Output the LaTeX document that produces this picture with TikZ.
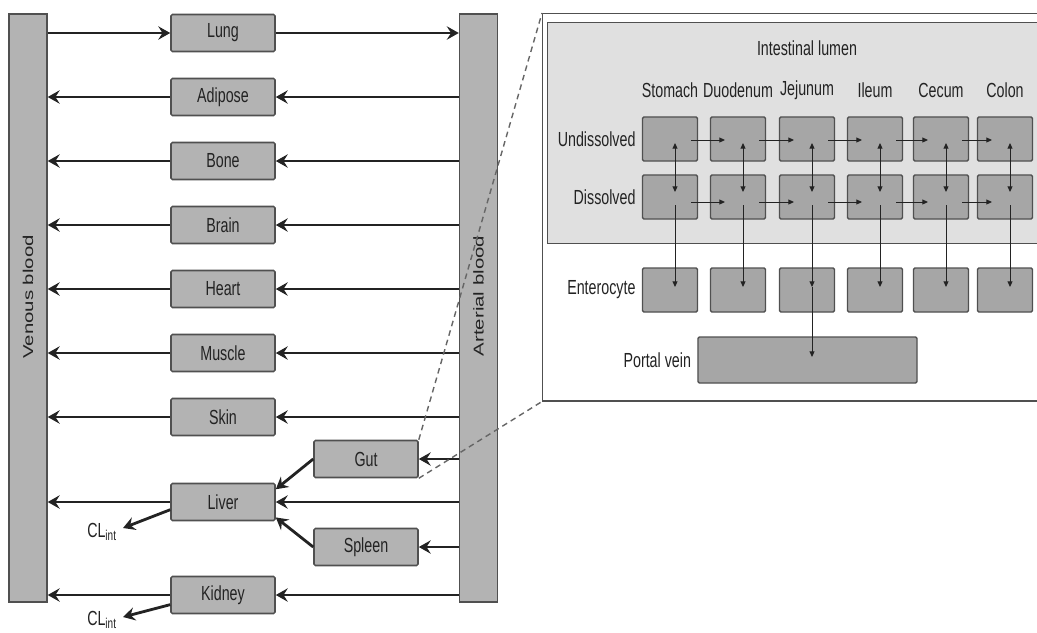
\documentclass[tikz,border=0pt]{standalone}
\usepackage{fontspec}
\setmainfont[FakeStretch=0.7]{Liberation Sans}
\newfontfamily\barfont{Liberation Sans}
\usetikzlibrary{arrows.meta,positioning,calc}
\definecolor{boxgray}{RGB}{179,179,179}
\definecolor{cellgray}{RGB}{166,166,166}
\definecolor{lumengray}{RGB}{224,224,224}
\definecolor{edgegray}{RGB}{80,80,80}
\definecolor{inkgray}{RGB}{35,35,35}

\begin{document}
\begin{tikzpicture}[
    x=0.025cm, y=-0.025cm,
    font=\fontsize{14.5}{16}\selectfont,
    organ/.style={draw=edgegray, line width=1.1pt, fill=boxgray, rounded corners=1pt, minimum width=2.6cm, minimum height=0.925cm, inner sep=0pt, text=inkgray},
    bar/.style={draw=edgegray, line width=1pt, fill=boxgray, minimum width=0.95cm, minimum height=14.7cm, inner sep=0pt},
    cell/.style={draw=edgegray, line width=1pt, fill=cellgray, rounded corners=1pt, minimum width=1.375cm, minimum height=1.1cm, inner sep=0pt},
    lbl/.style={inner sep=0pt, text=inkgray},
    barlbl/.style={lbl, rotate=90, font=\barfont\fontsize{14.5}{16}\selectfont},
    flow/.style={-{Stealth[length=8.5pt,width=9.5pt,inset=3pt]}, line width=2pt, draw=inkgray},
    seep/.style={-{Triangle[length=4pt,width=3.5pt]}, line width=0.7pt, draw=inkgray},
    seepboth/.style={seep, {Triangle[length=4pt,width=3.5pt]}-{Triangle[length=4pt,width=3.5pt]}},
    zoomline/.style={dashed, dash pattern=on 4pt off 3pt, line width=1pt, draw=black!60}
]
    \useasboundingbox (0,0) rectangle (1037,632);

    % blood pools
    \node[bar] (venous) at (28,308) {};
    \node[bar] (arterial) at (478.5,308) {};
    \node[barlbl] (venlbl) at (28,297) {\scalebox{1}[0.7]{Venous blood}};
    \node[barlbl] (artlbl) at (478.5,296) {\scalebox{1}[0.7]{Arterial blood}};

    % organs
    \foreach \nm/\txt/\y in {lung/Lung/33, adipose/Adipose/97, bone/Bone/161, brain/Brain/225, heart/Heart/289, muscle/Muscle/353, skin/Skin/417, liver/Liver/502, kidney/Kidney/595}
        \node[organ] (\nm) at (223,\y) {\txt};
    \node[organ] (gut) at (366,459) {Gut};
    \node[organ] (spleen) at (366,547) {Spleen};
    \node[lbl] (clliver) at (102,532) {CL\textsubscript{int}};
    \node[lbl] (clkidney) at (102,620) {CL\textsubscript{int}};

    \draw[flow] (venous.east |- lung) -- (lung);
    \draw[flow] (lung) -- (arterial.west |- lung);
    \foreach \nm in {adipose,bone,brain,heart,muscle,skin,liver,kidney} {
        \draw[flow] (arterial.west |- \nm) -- (\nm);
        \draw[flow] (\nm) -- (venous.east |- \nm);
    }
    \draw[flow] (arterial.west |- gut) -- (gut);
    \draw[flow] (arterial.west |- spleen) -- (spleen);
    \draw[flow] (gut.west) -- ($(liver.north east)!0.17!(liver.south east)$);
    \draw[flow] (spleen.west) -- ($(liver.north east)!0.9!(liver.south east)$);
    \draw[flow] ($(liver.north west)!0.7!(liver.south west)$) -- ($(clliver.east)+(6,-4)$);
    \draw[flow] ($(kidney.north west)!0.75!(kidney.south west)$) -- ($(clkidney.east)+(6,-3)$);

    % gut detail
    \node[draw=edgegray, fill=white, line width=1pt, anchor=north west, minimum width=12.7cm, minimum height=9.675cm] (zoombox) at (542,13) {};
    \node[draw=edgegray, fill=lumengray, line width=1pt, anchor=north west, minimum width=12.6cm, minimum height=5.525cm] (lumen) at (547,22) {};
    \draw[zoomline] (gut.north east) -- (zoombox.north west);
    \draw[zoomline] (gut.south east) -- (zoombox.south west);

    \node[lbl] (lumenlbl) at (807,48) {Intestinal lumen};
    \foreach \nm/\x [count=\i] in {Stomach/670, Duodenum/738, Jejunum/807, Ileum/875, Cecum/941, Colon/1005} {
        \node[lbl] (h\i) at (\x,90) {\nm};
        \node[cell] (u\i) at (\x,139) {};
        \node[cell] (d\i) at (\x,197) {};
        \node[cell] (e\i) at (\x,290) {};
    }
    \node[cell, minimum width=5.475cm, minimum height=1.15cm] (portal) at (807.5,360) {};
    \node[lbl, left=0.15cm of u1] (undlbl) {Undissolved};
    \node[lbl, left=0.15cm of d1] (dislbl) {Dissolved};
    \node[lbl, left=0.15cm of e1] (entlbl) {Enterocyte};
    \node[lbl, left=0.15cm of portal] (portlbl) {Portal vein};

    \foreach \a/\b in {1/2,2/3,3/4,4/5,5/6} {
        \draw[seep] ($(u\a.east)+(-7,1)$) -- ($(u\b)+(-13,1)$);
        \draw[seep] ($(d\a.east)+(-7,5)$) -- ($(d\b)+(-13,5)$);
    }
    \foreach \i in {1,...,6} {
        \draw[seepboth] ($(u\i)+(5,4)$) -- ($(d\i)+(5,-5)$);
        \draw[seep] ($(d\i)+(5,8)$) -- ($(e\i)+(5,-3)$);
    }
    \draw[seep] ($(e3)+(5,-3)$) -- ($(e3 |- portal)+(5,-3)$);
\end{tikzpicture}
\end{document}
